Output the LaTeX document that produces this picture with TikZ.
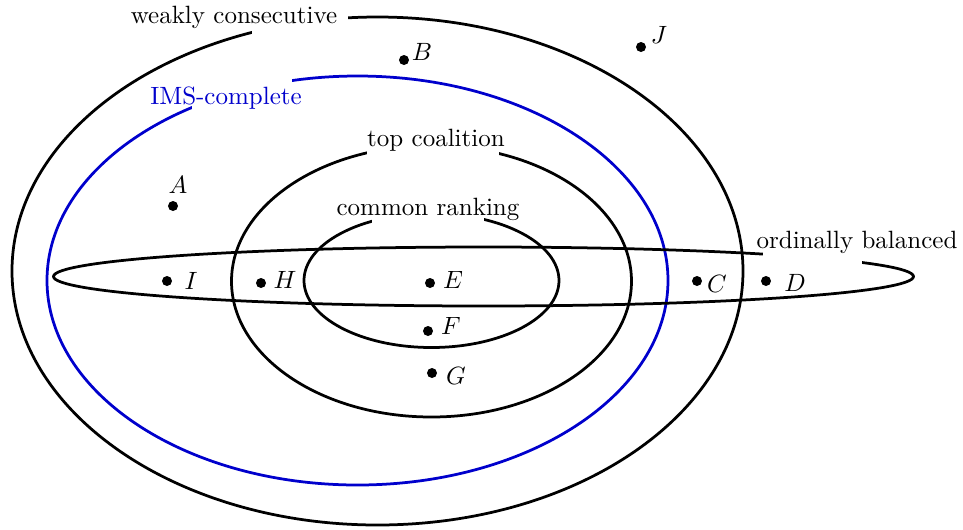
\documentclass[tikz,border=0pt]{standalone}
\begin{document}
\begin{tikzpicture}[x=0.4pt,y=-0.4pt,
  setline/.style={line width=1.1pt},
  gapcut/.style={fill=white,draw=none},
  setlabel/.style={inner sep=0pt},
  pt/.style={circle,fill=black,inner sep=0pt,minimum size=4pt},
  ptlabel/.style={inner sep=0pt}]
\useasboundingbox (0,0) rectangle (963,529);
% ellipses
\draw[setline] (377.5,271) ellipse [x radius=365.5, y radius=254];
\draw[setline,blue!80!black] (357.5,280.5) ellipse [x radius=310.5, y radius=204.5];
\draw[setline] (431.5,281.3) ellipse [x radius=200, y radius=135.7];
\draw[setline] (431.5,280.5) ellipse [x radius=127.5, y radius=67];
\draw[setline] (483.5,276.5) ellipse [x radius=430, y radius=29.5];
% gaps in the outlines behind the labels
\fill[gapcut] (252,4) rectangle (348,40);
\fill[gapcut] (192,70) rectangle (292,118);
\fill[gapcut] (367,135) rectangle (499,160);
\fill[gapcut] (372,205) rectangle (484,228);
\fill[gapcut] (763,240) rectangle (862,270);
% labels
\node[setlabel] (wc) at (234,17) {weakly consecutive};
\node[setlabel,text=blue!80!black] (ims) at (226,98) {IMS-complete};
\node[setlabel] (tc) at (436,140) {top coalition};
\node[setlabel] (cr) at (428,209) {common ranking};
\node[setlabel] (ob) at (857,242) {ordinally balanced};
% points
\node[pt] (B) at (404,60) {};
\node[ptlabel] (Bl) at (422,52) {$B$};
\node[pt] (J) at (641,47) {};
\node[ptlabel] (Jl) at (659,35) {$J$};
\node[pt] (A) at (173,206) {};
\node[ptlabel] (Al) at (178,185) {$A$};
\node[pt] (I) at (167,281) {};
\node[ptlabel] (Il) at (191,281) {$I$};
\node[pt] (H) at (261,283) {};
\node[ptlabel] (Hl) at (285,280) {$H$};
\node[pt] (E) at (430,283) {};
\node[ptlabel] (El) at (453,280) {$E$};
\node[pt] (F) at (428,331) {};
\node[ptlabel] (Fl) at (451,326) {$F$};
\node[pt] (G) at (432,373) {};
\node[ptlabel] (Gl) at (456,376) {$G$};
\node[pt] (C) at (697,281) {};
\node[ptlabel] (Cl) at (717,284) {$C$};
\node[pt] (D) at (766,281) {};
\node[ptlabel] (Dl) at (795,283) {$D$};
\end{tikzpicture}
\end{document}
